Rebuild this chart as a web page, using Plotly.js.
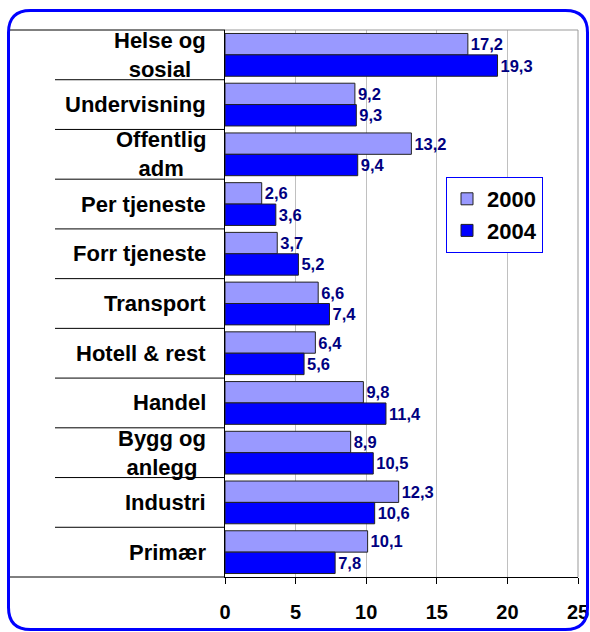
<!DOCTYPE html>
<html><head><meta charset="utf-8">
<script src="https://cdn.plot.ly/plotly-3.0.1.min.js"></script>
<style>html,body{margin:0;padding:0;background:#fff}</style>
</head><body><div id="chart" style="width:590px;height:632px"></div>
<script>
const categories = ["Helse og sosial","Undervisning","Offentlig adm","Per tjeneste","Forr tjeneste","Transport","Hotell & rest","Handel","Bygg og anlegg","Industri","Primær"];
const categoryLabels = ["Helse og<br>sosial","Undervisning","Offentlig<br>adm","Per tjeneste","Forr tjeneste","Transport","Hotell & rest","Handel","Bygg og<br>anlegg","Industri","Primær"];
const seriesNames = ["2000","2004"];
const values2000 = [17.2,9.2,13.2,2.6,3.7,6.6,6.4,9.8,8.9,12.3,10.1];
const values2004 = [19.3,9.3,9.4,3.6,5.2,7.4,5.6,11.4,10.5,10.6,7.8];
const xTicks = [0,5,10,15,20,25];

const FONT = "Arial, 'Liberation Sans', sans-serif";
const W = 590, H = 632;
const M = {l:225, r:12, t:30, b:55};
const PW = W - M.l - M.r, PH = H - M.t - M.b;
const px = x => (x - M.l) / PW;
const py = y => (H - M.b - y) / PH;
const fmt = v => v.toFixed(1).replace('.', ',');

function bar(name, vals, color, group) {
  return {
    type:'bar', orientation:'h', name:name, y:categories, x:vals,
    legendgroup:group,
    text: vals.map(fmt), textposition:'outside', cliponaxis:false, constraintext:'none',
    textfont:{family:FONT, size:16.5, color:'#000080', weight:'bold'},
    marker:{color:color, line:{color:'#222', width:1}},
    hoverinfo:'none'
  };
}
const data = [bar(seriesNames[0], values2000, '#9999FF', 'a'), bar(seriesNames[1], values2004, '#0000FF', 'b')];

const shapes = [];
for (let i = 0; i < categories.length - 1; i++) {
  shapes.push({type:'line', xref:'paper', yref:'y', x0:px(55), x1:0, y0:i+0.5, y1:i+0.5, line:{color:'#000', width:1}});
}
shapes.push({type:'line', xref:'paper', yref:'paper', x0:px(10), x1:0, y0:1, y1:1, line:{color:'#000', width:1}});
shapes.push({type:'line', xref:'paper', yref:'paper', x0:px(10), x1:0, y0:0, y1:0, line:{color:'#000', width:1}});
shapes.push({type:'line', xref:'paper', yref:'paper', x0:0, x1:1, y0:1, y1:1, line:{color:'#999', width:1}});
shapes.push({type:'line', xref:'paper', yref:'paper', x0:1, x1:1, y0:0, y1:1, line:{color:'#999', width:1}});
(function(){
  const x0 = 8.5, x1 = 587.5, y0 = 10.5, y1 = 629.5, r = 22;
  const P = (x, y) => px(x).toFixed(5) + ',' + py(y).toFixed(5);
  const path = 'M' + P(x0+r,y0) + ' L' + P(x1-r,y0) + ' Q' + P(x1,y0) + ' ' + P(x1,y0+r) +
    ' L' + P(x1,y1-r) + ' Q' + P(x1,y1) + ' ' + P(x1-r,y1) +
    ' L' + P(x0+r,y1) + ' Q' + P(x0,y1) + ' ' + P(x0,y1-r) +
    ' L' + P(x0,y0+r) + ' Q' + P(x0,y0) + ' ' + P(x0+r,y0) + ' Z';
  shapes.push({type:'path', xref:'paper', yref:'paper', path:path, line:{color:'#0000FF', width:3}});
})();

const annotations = categories.map((c, i) => ({
  xref:'paper', yref:'y', x:0, y:c, xanchor:'right', yanchor:'middle', xshift:-17,
  text:categoryLabels[i], align:'center', showarrow:false,
  font:{family:FONT, size:22, color:'#000', weight:'bold'}
}));

const layout = {
  width:W, height:H, margin:{l:M.l, r:M.r, t:M.t, b:M.b, autoexpand:false},
  paper_bgcolor:'#fff', plot_bgcolor:'#fff',
  barmode:'group', bargap:0.14, bargroupgap:0,
  font:{family:FONT},
  xaxis:{range:[0,25], tickvals:xTicks, ticktext:xTicks.map(String), showgrid:true, gridcolor:'#c0c0c0', gridwidth:1,
    zeroline:false, showline:true, linecolor:'#000', linewidth:1, ticks:'outside', ticklen:6, tickcolor:'#000',
    ticklabelstandoff:11, tickfont:{family:FONT, size:20, color:'#000', weight:'bold'}, fixedrange:true},
  yaxis:{type:'category', range:[categories.length-0.5, -0.5], showticklabels:false, showgrid:false, zeroline:false,
    showline:true, linecolor:'#000', linewidth:1, ticks:'', fixedrange:true},
  legend:{x:px(446), y:py(177), xanchor:'left', yanchor:'top', bgcolor:'#fff', bordercolor:'#0000FF', borderwidth:1,
    font:{family:FONT, size:22, color:'#000', weight:'bold'}, tracegroupgap:7, traceorder:'normal'},
  showlegend:true,
  shapes:shapes, annotations:annotations
};
Plotly.newPlot('chart', data, layout, {staticPlot:true, displayModeBar:false});
</script></body></html>
